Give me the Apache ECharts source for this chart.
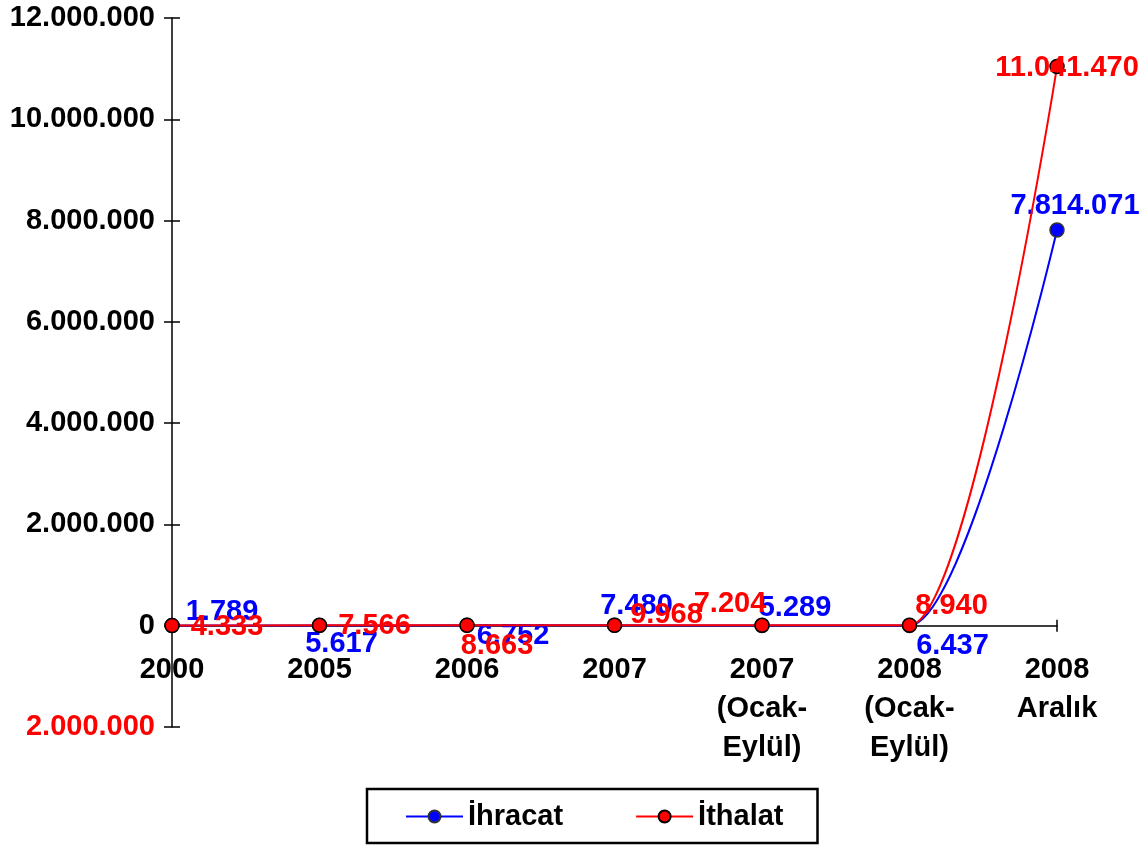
<!DOCTYPE html>
<html>
<head>
<meta charset="utf-8">
<script src="https://cdn.jsdelivr.net/npm/echarts@6/dist/echarts.min.js"></script>
<style>
html,body{margin:0;padding:0;background:#fff;}
#c{width:1148px;height:848px;}
</style>
</head>
<body>
<div id="c"></div>
<script>
var categories = ['2000', '2005', '2006', '2007', '2007\n(Ocak-\nEylül)', '2008\n(Ocak-\nEylül)', '2008\nAralık'];
var ihracat = [1789, 5617, 6752, 7480, 5289, 6437, 7814071];
var ithalat = [4333, 7566, 8663, 9968, 7204, 8940, 11041470];
var yMin = -2000000, yMax = 12000000, yStep = 2000000;

// label placement (pixel offsets from each point)
var ihracatLabelOffsets = [[50, -14], [22, 19], [46, 11], [22, -19], [33, -17], [43, 21], [18, -24]];
var ithalatLabelOffsets = [[55, 2], [55, 1], [30, 21], [52, -10], [-32, -21], [42, -19], [10, 1]];

function fmt(v) {
  var s = String(Math.round(Math.abs(v)));
  return s.replace(/\B(?=(\d{3})+(?!\d))/g, '.');
}
var FONT = 'Liberation Sans, Arial, sans-serif';
var FS = 29;

function buildData(values, offsets, color) {
  return values.map(function (v, i) {
    return {
      value: v,
      label: {
        show: true, position: 'inside', offset: offsets[i],
        align: 'center', verticalAlign: 'middle',
        formatter: function (p) { return fmt(p.value); },
        color: color, fontFamily: FONT, fontWeight: 'bold', fontSize: FS
      }
    };
  });
}

var chart = echarts.init(document.getElementById('c'));
chart.setOption({
  animation: false,
  backgroundColor: '#fff',
  grid: { left: 172, right: 91, top: 18, bottom: 121, containLabel: false, outerBoundsMode: 'none' },
  xAxis: [{
    type: 'category', data: categories, boundaryGap: false,
    axisLine: { onZero: true, lineStyle: { color: '#000', width: 1.5 } },
    axisTick: { show: true, length: 6, lineStyle: { color: '#000', width: 1.5 } },
    axisLabel: { color: '#000', fontFamily: FONT, fontWeight: 'bold', fontSize: FS, lineHeight: 39, margin: -77, interval: 0 }
  }, {
    type: 'category', data: categories, boundaryGap: false, position: 'bottom',
    axisLine: { onZero: true, show: false },
    axisTick: { show: true, inside: true, length: 6, lineStyle: { color: '#000', width: 1.5 } },
    axisLabel: { show: false }
  }],
  yAxis: [{
    type: 'value', min: yMin, max: yMax, interval: yStep,
    axisLine: { show: true, lineStyle: { color: '#000', width: 1.5 } },
    axisTick: { show: true, length: 8, lineStyle: { color: '#000', width: 1.5 } },
    splitLine: { show: false },
    axisLabel: {
      margin: 17, fontFamily: FONT, fontWeight: 'bold', fontSize: FS,
      formatter: function (v) { return fmt(v); },
      color: function (v) { return Number(v) < 0 ? '#ff0000' : '#000'; }
    }
  }, {
    type: 'value', min: yMin, max: yMax, interval: yStep, position: 'left', offset: 0,
    axisLine: { show: false },
    axisTick: { show: true, inside: true, length: 8, lineStyle: { color: '#000', width: 1.5 } },
    splitLine: { show: false },
    axisLabel: { show: false }
  }],
  legend: {
    left: 367, bottom: 5,
    data: ['İhracat', 'İthalat'],
    itemWidth: 57, itemHeight: 15, itemGap: 72,
    padding: [13, 34, 12, 38],
    borderColor: '#000', borderWidth: 2.5,
    textStyle: { color: '#000', fontFamily: FONT, fontWeight: 'bold', fontSize: FS }
  },
  series: [{
    name: 'İhracat', type: 'line', smooth: 0.25,
    data: buildData(ihracat, ihracatLabelOffsets, '#0000ff'),
    symbol: 'circle', symbolSize: 14,
    lineStyle: { color: '#0000ff', width: 2 },
    itemStyle: { color: '#0000ff', borderColor: '#333', borderWidth: 1.5 },
    z: 2
  }, {
    name: 'İthalat', type: 'line', smooth: 0.25,
    data: buildData(ithalat, ithalatLabelOffsets, '#ff0000'),
    symbol: 'circle', symbolSize: 14,
    lineStyle: { color: '#ff0000', width: 2 },
    itemStyle: { color: '#ff0000', borderColor: '#000', borderWidth: 1.5 },
    z: 3
  }]
});
</script>
</body>
</html>
